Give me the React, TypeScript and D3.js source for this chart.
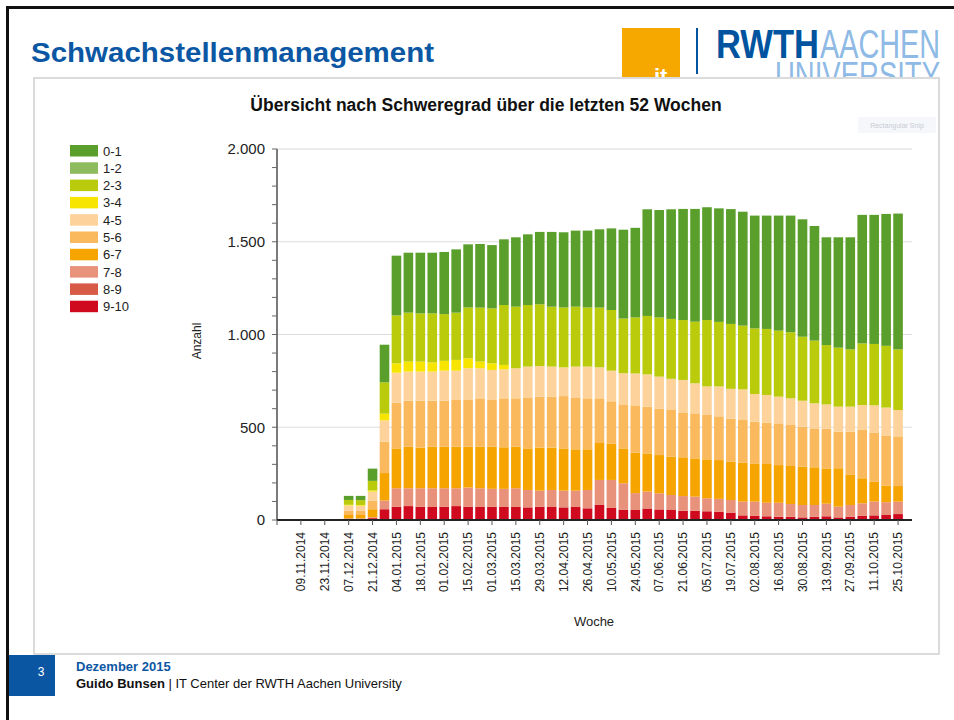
import * as d3 from "d3";

const weeks = [
  "26.10.2014", "02.11.2014", "09.11.2014", "16.11.2014", "23.11.2014", "30.11.2014",
  "07.12.2014", "14.12.2014", "21.12.2014", "28.12.2014",
  "04.01.2015", "11.01.2015", "18.01.2015", "25.01.2015",
  "01.02.2015", "08.02.2015", "15.02.2015", "22.02.2015",
  "01.03.2015", "08.03.2015", "15.03.2015", "22.03.2015", "29.03.2015",
  "05.04.2015", "12.04.2015", "19.04.2015", "26.04.2015",
  "03.05.2015", "10.05.2015", "17.05.2015", "24.05.2015", "31.05.2015",
  "07.06.2015", "14.06.2015", "21.06.2015", "28.06.2015",
  "05.07.2015", "12.07.2015", "19.07.2015", "26.07.2015",
  "02.08.2015", "09.08.2015", "16.08.2015", "23.08.2015", "30.08.2015",
  "06.09.2015", "13.09.2015", "20.09.2015", "27.09.2015",
  "04.10.2015", "11.10.2015", "18.10.2015", "25.10.2015",
];

const severityKeys = ["0-1", "1-2", "2-3", "3-4", "4-5", "5-6", "6-7", "7-8", "8-9", "9-10"];
const severityColors = [
  "#5a9f2b", "#8dbb5e", "#b9cb0b", "#f7e500", "#fdd39b",
  "#f9b95c", "#f5a400", "#e8917b", "#d65a45", "#cf0a1e",
];

// counts per severity class, one value per week (first six weeks empty)
const sev01 = [0, 0, 0, 0, 0, 0, 22, 23, 66, 203, 322, 323, 327, 327, 335, 341, 340, 343, 341, 354, 374, 381, 390, 403, 405, 410, 414, 422, 440, 479, 483, 575, 579, 591, 599, 608, 608, 612, 619, 614, 608, 611, 620, 629, 633, 618, 581, 595, 604, 693, 696, 711, 732];
const sev12 = [0, 0, 0, 0, 0, 0, 0, 0, 0, 0, 0, 0, 0, 0, 0, 0, 0, 0, 0, 0, 0, 0, 0, 0, 0, 0, 0, 0, 0, 0, 0, 0, 0, 0, 0, 0, 0, 0, 0, 0, 0, 0, 0, 0, 0, 0, 0, 0, 0, 0, 0, 0, 0];
const sev23 = [0, 0, 0, 0, 0, 0, 26, 26, 52, 169, 258, 264, 260, 264, 252, 255, 274, 291, 296, 323, 332, 332, 333, 323, 323, 323, 319, 322, 327, 295, 302, 315, 319, 323, 323, 332, 358, 348, 350, 344, 354, 356, 356, 356, 345, 338, 320, 318, 309, 332, 331, 333, 327];
const sev34 = [0, 0, 0, 0, 0, 0, 4, 4, 6, 36, 51, 54, 54, 50, 53, 58, 54, 36, 36, 24, 0, 0, 0, 0, 0, 0, 0, 0, 0, 0, 0, 0, 0, 0, 0, 0, 0, 0, 0, 0, 0, 0, 0, 0, 0, 0, 0, 0, 0, 0, 0, 0, 0];
const sev45 = [0, 0, 0, 0, 0, 0, 29, 28, 48, 115, 162, 157, 157, 157, 162, 158, 168, 162, 162, 156, 162, 166, 165, 162, 155, 166, 171, 167, 165, 171, 172, 174, 172, 168, 175, 162, 154, 161, 161, 165, 149, 149, 144, 144, 140, 135, 130, 135, 135, 135, 146, 153, 142];
const sev56 = [0, 0, 0, 0, 0, 0, 22, 22, 47, 169, 246, 248, 253, 248, 248, 252, 255, 261, 252, 264, 261, 275, 275, 275, 282, 280, 275, 241, 228, 234, 255, 252, 251, 252, 242, 243, 239, 236, 232, 230, 225, 223, 225, 221, 215, 210, 215, 197, 233, 260, 266, 267, 268];
const sev67 = [0, 0, 0, 0, 0, 0, 18, 18, 43, 148, 215, 224, 219, 224, 224, 224, 220, 224, 227, 224, 224, 224, 232, 228, 228, 223, 219, 199, 196, 188, 218, 206, 206, 206, 209, 206, 210, 209, 206, 210, 206, 209, 203, 205, 207, 203, 190, 207, 162, 135, 106, 90, 84];
const sev78 = [0, 0, 0, 0, 0, 0, 6, 6, 5, 47, 99, 96, 99, 101, 99, 96, 103, 101, 96, 98, 101, 94, 86, 92, 90, 88, 99, 135, 151, 142, 91, 91, 87, 81, 79, 76, 70, 69, 68, 74, 77, 73, 75, 68, 67, 63, 68, 58, 63, 68, 75, 69, 67];
const sev89 = [0, 0, 0, 0, 0, 0, 0, 0, 0, 0, 0, 0, 0, 0, 0, 0, 0, 0, 0, 0, 0, 0, 0, 0, 0, 0, 0, 0, 0, 0, 0, 0, 0, 0, 0, 0, 0, 0, 0, 0, 0, 0, 0, 0, 0, 0, 0, 0, 0, 0, 0, 0, 0];
const sev910 = [0, 0, 0, 0, 0, 0, 3, 3, 10, 58, 72, 75, 72, 70, 72, 75, 72, 70, 72, 70, 70, 68, 72, 70, 68, 70, 63, 81, 65, 56, 54, 62, 57, 54, 50, 50, 47, 45, 40, 25, 22, 20, 18, 18, 14, 18, 20, 14, 18, 22, 25, 27, 32];

const yTicks = [0, 500, 1000, 1500, 2000];

const FONT = "'Liberation Sans', Arial, sans-serif";
const RWTH_BLUE = "#00549f";

const deNum = (v: number) => d3.format(",")(v).replace(/,/g, ".");

export default function App() {
  const parse = d3.timeParse("%d.%m.%Y");
  const dates = weeks.map((w) => parse(w) as Date);

  const x = d3
    .scaleTime()
    .domain([dates[0], d3.timeWeek.offset(dates[dates.length - 1], 1)])
    .range([277, 910]);
  const y = d3.scaleLinear().domain([0, 2000]).range([520, 149]);
  const barW = 9.6;

  const bySeverity = [sev01, sev12, sev23, sev34, sev45, sev56, sev67, sev78, sev89, sev910];
  const rows = weeks.map((w, i) => {
    const r: Record<string, number | string> = { week: w };
    severityKeys.forEach((k, j) => (r[k] = bySeverity[j][i]));
    return r;
  });
  // stack from most severe (bottom) to least severe (top)
  const stackKeys = [...severityKeys].reverse();
  const series = d3.stack<Record<string, number | string>>().keys(stackKeys)(rows as any);
  const color = d3.scaleOrdinal<string, string>().domain(severityKeys).range(severityColors);

  const tickIdx = weeks.map((_, i) => i).filter((i) => i % 2 === 0);

  return (
    <svg
      width={954}
      height={720}
      style={{ position: "absolute", left: 0, top: 0, background: "#fff" }}
      fontFamily={FONT}
    >
      <defs>
        <clipPath id="logo-clip">
          <rect x={600} y={20} width={354} height={57} />
        </clipPath>
      </defs>

      {/* slide frame */}
      <rect x={0} y={0} width={954} height={720} fill="#fff" />
      <rect x={6} y={6} width={948} height={3} fill="#111" />
      <rect x={6} y={6} width={3} height={714} fill="#111" />

      <text x={31} y={62} fontSize={28} fontWeight="bold" fill="#0b57a4" textLength={403} lengthAdjust="spacingAndGlyphs">
        Schwachstellenmanagement
      </text>

      {/* logos */}
      <g clipPath="url(#logo-clip)">
        <rect x={622} y={28} width={58} height={52} fill="#f6a800" />
        <text x={654} y={84} fontSize={22} fontWeight="bold" fill="#fff">
          it
        </text>
        <rect x={696} y={28} width={2} height={46} fill={RWTH_BLUE} />
        <text x={716} y={58} fontSize={40} fontWeight="bold" fill={RWTH_BLUE} textLength={103} lengthAdjust="spacingAndGlyphs">
          RWTH
        </text>
        <text x={820} y={58} fontSize={40} fill="#8ebae5" textLength={120} lengthAdjust="spacingAndGlyphs">
          AACHEN
        </text>
        <text x={775} y={88} fontSize={36} fill="#8ebae5" textLength={165} lengthAdjust="spacingAndGlyphs">
          UNIVERSITY
        </text>
      </g>

      {/* chart panel */}
      <rect x={34} y={78} width={905} height={576} fill="#fff" stroke="#cfcfcf" strokeWidth={1.5} />
      <rect x={858} y={117} width={78} height={16} fill="#f5f7fb" />
      <text x={897} y={128} fontSize={7} fill="#c9ccd3" textAnchor="middle">
        Rectangular Snip
      </text>

      <text x={486} y={111} fontSize={17.5} fontWeight="bold" fill="#111" textAnchor="middle">
        Übersicht nach Schweregrad über die letzten 52 Wochen
      </text>

      {/* grid */}
      {yTicks.filter((t) => t > 0).map((t) => (
        <line key={t} x1={277} x2={912} y1={y(t)} y2={y(t)} stroke="#dcdcdc" strokeWidth={1.2} />
      ))}

      {/* bars */}
      {series.map((s) => (
        <g key={s.key} fill={color(s.key)}>
          {s.map((d, i) =>
            d[1] - d[0] > 0 ? (
              <rect
                key={i}
                x={x(dates[i]) - barW / 2}
                width={barW}
                y={y(d[1])}
                height={y(d[0]) - y(d[1])}
              />
            ) : null,
          )}
        </g>
      ))}

      {/* y axis */}
      <line x1={277} x2={277} y1={y(2000)} y2={y(0)} stroke="#333" strokeWidth={1.3} />
      {y.ticks(20).map((t) => (
        <line key={t} x1={272} x2={277} y1={y(t)} y2={y(t)} stroke="#666" strokeWidth={1} />
      ))}
      {yTicks.map((t) => (
        <text key={t} x={265} y={y(t)} dy="0.35em" fontSize={15} fill="#222" textAnchor="end">
          {deNum(t)}
        </text>
      ))}
      <text transform="translate(201,341) rotate(-90)" fontSize={12} fill="#222" textAnchor="middle">
        Anzahl
      </text>

      {/* x axis */}
      <line x1={277} x2={912} y1={y(0)} y2={y(0)} stroke="#222" strokeWidth={2} />
      {tickIdx.map((i) => (
        <line key={i} x1={x(dates[i])} x2={x(dates[i])} y1={y(0)} y2={y(0) + 5} stroke="#555" strokeWidth={1} />
      ))}
      {tickIdx
        .filter((i) => i > 0)
        .map((i) => (
          <text
            key={i}
            transform={`translate(${x(dates[i])},532) rotate(-90)`}
            dy="0.35em"
            fontSize={12}
            fill="#222"
            textAnchor="end"
          >
            {weeks[i]}
          </text>
        ))}
      <text x={594} y={626} fontSize={13} fill="#222" textAnchor="middle">
        Woche
      </text>

      {/* legend */}
      {severityKeys.map((k, i) => (
        <g key={k} transform={`translate(70,${145 + i * 17.3})`}>
          <rect width={28} height={11.5} fill={color(k)} />
          <text x={33} y={10.5} fontSize={13} fill="#222">
            {k}
          </text>
        </g>
      ))}

      {/* footer */}
      <rect x={9} y={655} width={46} height={41} fill="#0b56a3" />
      <text x={41} y={676} fontSize={12} fill="#fff" textAnchor="middle">
        3
      </text>
      <text x={76} y={671} fontSize={13} fontWeight="bold" fill="#0b57a4">
        Dezember 2015
      </text>
      <text x={76} y={688} fontSize={13} fill="#111">
        <tspan fontWeight="bold">Guido Bunsen</tspan> | IT Center der RWTH Aachen University
      </text>
    </svg>
  );
}
